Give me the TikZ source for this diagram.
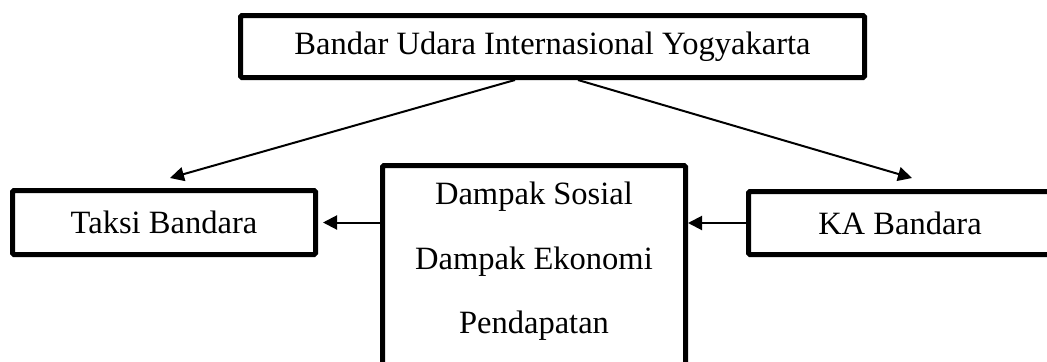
\documentclass[tikz,border=0pt]{standalone}
\usepackage{fontspec}
\setmainfont{Liberation Serif}
\usetikzlibrary{arrows.meta,calc}
\begin{document}
\begin{tikzpicture}[x=0.75pt,y=-0.75pt,
  box/.style={draw=black,line width=3.75pt,rounded corners=1pt,inner sep=0pt,
    font={\fontsize{24.4pt}{48.5pt}\selectfont},align=center},
  arr/.style={draw=black,line width=1.5pt,-{Triangle[length=10.5pt,width=10.5pt]}}]
\useasboundingbox (0,0) rectangle (1047,361);
\node[box,minimum width=468pt,minimum height=46.5pt] (top) at (552.5,46.5)
  {Bandar Udara Internasional Yogyakarta};
\node[box,minimum width=227.25pt,minimum height=48pt] (taksi) at (164,222.5)
  {Taksi Bandara};
\node[box,minimum width=227.25pt,minimum height=47.25pt] (ka) at (900,223)
  {KA Bandara};
\node[box,minimum width=227.25pt,minimum height=149.25pt] (mid) at (534,265)
  {Dampak Sosial\\Dampak Ekonomi\\Pendapatan\rule[-10.7pt]{0pt}{0pt}};
\coordinate (tl) at ($(top.south)+(-37.5,0)$);
\coordinate (tr) at ($(top.south)+(25.5,0)$);
\coordinate (taksiin) at (170,178);
\coordinate (kain) at (912,178);
\draw[arr] (tl) -- (taksiin);
\draw[arr] (tr) -- (kain);
\draw[arr] (taksi.east -| mid.west) -- ($(taksi.east)+(5,0)$);
\draw[arr] (ka.west) -- (ka.west -| mid.east);
\end{tikzpicture}
\end{document}
